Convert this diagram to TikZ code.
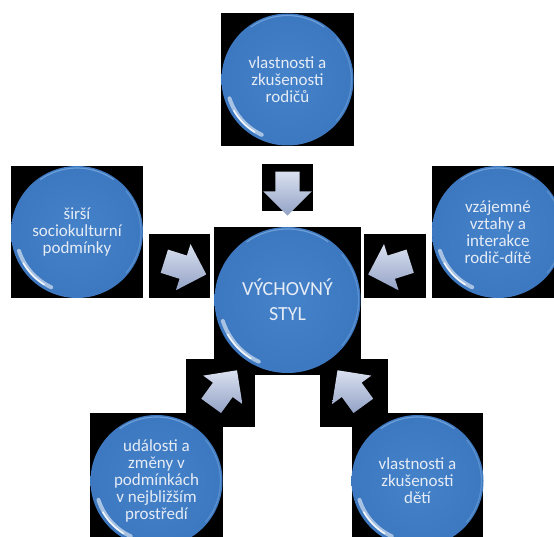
\documentclass[tikz,border=0pt]{standalone}
\usepackage{fontspec}
\setmainfont{Carlito}
\usetikzlibrary{shapes.arrows}
\definecolor{bubA}{HTML}{4482C9}
\definecolor{bubB}{HTML}{3B76BE}
\definecolor{bubC}{HTML}{2D62A5}
\definecolor{bubD}{HTML}{78A9DE}
\definecolor{arrLight}{HTML}{D9E0EF}
\definecolor{arrDark}{HTML}{93A2C6}
\definecolor{txt}{HTML}{E6ECF6}
\pgfdeclareradialshading{bubble}{\pgfpoint{0bp}{0bp}}{color(0bp)=(bubA); color(30bp)=(bubB); color(45bp)=(bubC); color(48.5bp)=(bubD); color(50bp)=(bubC)}
\begin{document}
\begin{tikzpicture}[x=1pt,y=-1pt]
\tikzstyle{bubble}=[shape=circle,shading=bubble,inner sep=0pt,text=txt,align=center,
  font=\fontsize{17}{17}\selectfont];
\tikzstyle{pointer}=[single arrow,minimum height=44pt,inner xsep=0pt,inner ysep=12pt,
  single arrow head extend=12pt,top color=arrLight,bottom color=arrDark];
\tikzstyle{glare}=[white,line width=4pt,opacity=0.55,line cap=round];
\tikzstyle{rim}=[bubD,line width=1.2pt,opacity=0.8];
\clip (0,0) rectangle (554,537);
% black backings
\foreach \xa/\ya/\xb/\yb in {221/13/354/146, 11/166/143/298, 432/166/554/298,
  214/227/361/375, 90/413/223/537, 352/413/483/537, 262/164/313/211,
  149/234/210/298, 364/234/426/298, 186/359/255/427, 320/359/388/427}
  \fill[black] (\xa,\ya) rectangle (\xb,\yb);
% bubbles
\path (287.5,300) node[bubble,minimum size=146pt,font=\fontsize{20}{25}\selectfont] (styl) {VÝCHOVNÝ\\STYL};
\path (287.5,79.5) node[bubble,minimum size=132pt] (rodice) {vlastnosti a\\zkušenosti\\rodičů};
\path (77,232) node[bubble,minimum size=132pt] (kultura) {širší\\sociokulturní\\podmínky};
\path (498,232) node[bubble,minimum size=132pt] (vztahy) {vzájemné\\vztahy a\\interakce\\rodič-dítě};
\path (156.5,481) node[bubble,minimum size=132pt] (udalosti) {události a\\změny v\\podmínkách\\v nejbližším\\prostředí};
\path (417.5,481) node[bubble,minimum size=132pt] (deti) {vlastnosti a\\zkušenosti\\dětí};
\foreach \c/\r in {styl/68, rodice/61, kultura/61, vztahy/61, udalosti/61, deti/61} {
  \draw[glare] (\c.center) ++(115:\r) arc[start angle=115, end angle=162, radius=\r];
  \draw[glare,line width=1.5pt,opacity=0.9] (\c.center) ++(122:\r+1) arc[start angle=122, end angle=150, radius=\r+1];
  \draw[rim] (\c.center) ++(235:\r+3) arc[start angle=235, end angle=305, radius=\r+3];
  \draw[rim,opacity=0.5] (\c.center) ++(-40:\r+3) arc[start angle=-40, end angle=40, radius=\r+3];
}
% arrows
\path (287.5,187.5) node[pointer,rotate=-90] (a1) {};
\path (179.5,266) node[pointer,rotate=-17.5] (a2) {};
\path (395,266) node[pointer,rotate=197.5] (a3) {};
\path (220.5,393) node[pointer,rotate=54] (a4) {};
\path (354,393) node[pointer,rotate=126] (a5) {};
\end{tikzpicture}
\end{document}
